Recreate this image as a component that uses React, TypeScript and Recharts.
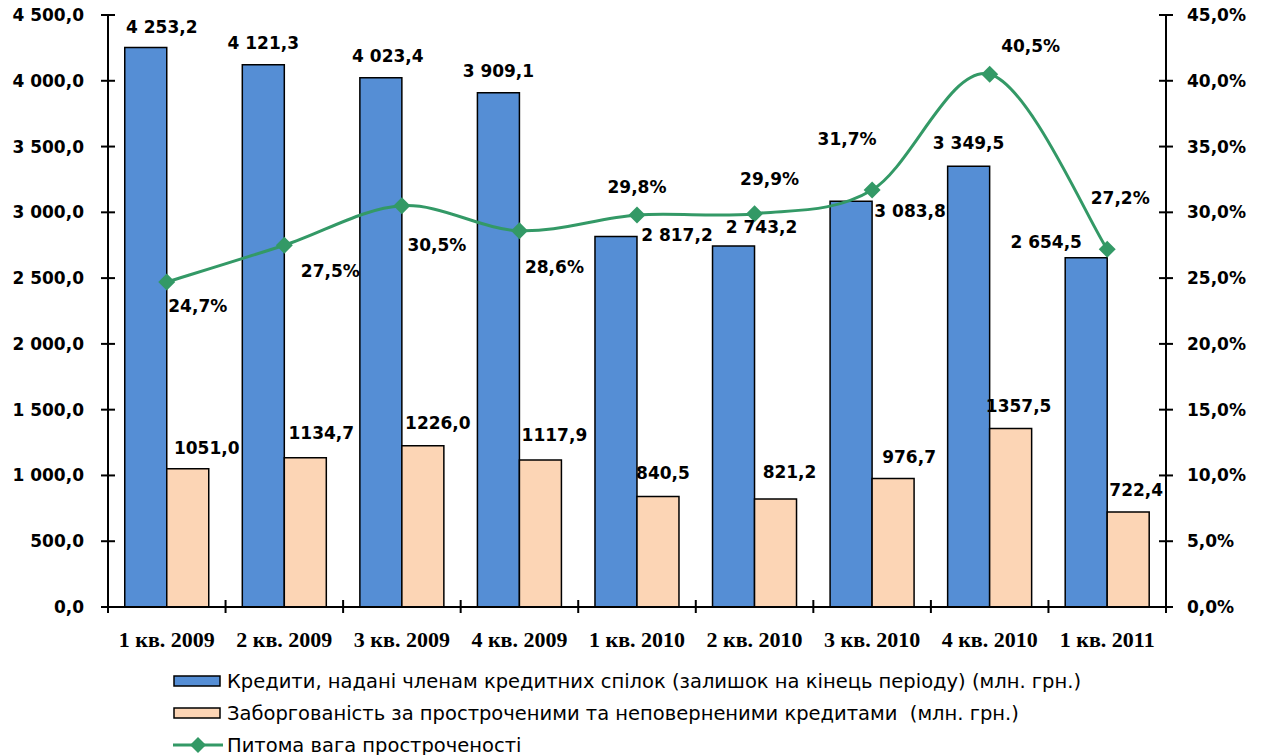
import React from 'react';
import { ComposedChart, Bar, Line, XAxis, YAxis, Legend, LabelList } from 'recharts';

const categories = ['1 кв. 2009', '2 кв. 2009', '3 кв. 2009', '4 кв. 2009', '1 кв. 2010', '2 кв. 2010', '3 кв. 2010', '4 кв. 2010', '1 кв. 2011'];
const loans = [4253.2, 4121.3, 4023.4, 3909.1, 2817.2, 2743.2, 3083.8, 3349.5, 2654.5];
const overdue = [1051.0, 1134.7, 1226.0, 1117.9, 840.5, 821.2, 976.7, 1357.5, 722.4];
const share = [24.7, 27.5, 30.5, 28.6, 29.8, 29.9, 31.7, 40.5, 27.2];
const leftTicks = [0, 500, 1000, 1500, 2000, 2500, 3000, 3500, 4000, 4500];
const rightTicks = [0, 5, 10, 15, 20, 25, 30, 35, 40, 45];

const seriesNames = [
  'Кредити, надані членам кредитних спілок (залишок на кінець періоду) (млн. грн.)',
  'Заборгованість за простроченими та неповерненими кредитами  (млн. грн.)',
  'Питома вага простроченості',
];

// label placement offsets (style), relative to bar top center / point
const loanLabelOffset = [[16, -20], [0, -22], [7, -22], [0, -22], [61, -1], [28, -19], [59, 10], [0, -23], [-40, -16]];
const overdueLabelOffset = [[19, -21], [16, -25], [15, -23], [14, -25], [5, -23], [14, -27], [16, -22], [8, -22], [8, -22]];
const shareLabelOffset = [[31, 24], [46, 26], [35, 39], [35, 36], [0, -28], [15, -35], [-25, -51], [41, -28], [13, -51]];

const BLUE = '#558ED5';
const PEACH = '#FCD5B5';
const GREEN = '#339966';
const FONT = 'DejaVu Sans';

const data = categories.map((c, i) => ({ cat: c, loans: loans[i], overdue: overdue[i], share: share[i] }));

const fmtSpaced = (v: number) => {
  const s = v.toFixed(1);
  const [int, dec] = s.split('.');
  const intS = int.replace(/\B(?=(\d{3})+(?!\d))/g, ' ');
  return `${intS},${dec}`;
};
const fmtPlain = (v: number) => v.toFixed(1).replace('.', ',');
const fmtPct = (v: number) => `${v.toFixed(1).replace('.', ',')}%`;

// Excel-like smoothed curve (Catmull-Rom through points)
const excelCurve: any = (context: any) => {
  let pts: number[][] = [];
  return {
    areaStart() {},
    areaEnd() {},
    lineStart() { pts = []; },
    point(x: number, y: number) { pts.push([+x, +y]); },
    lineEnd() {
      if (!pts.length) return;
      context.moveTo(pts[0][0], pts[0][1]);
      for (let i = 0; i < pts.length - 1; i++) {
        const p0 = pts[i - 1] || pts[i];
        const p1 = pts[i];
        const p2 = pts[i + 1];
        const p3 = pts[i + 2] || p2;
        context.bezierCurveTo(
          p1[0] + (p2[0] - p0[0]) / 6, p1[1] + (p2[1] - p0[1]) / 6,
          p2[0] - (p3[0] - p1[0]) / 6, p2[1] - (p3[1] - p1[1]) / 6,
          p2[0], p2[1]
        );
      }
    },
  };
};

const textStyle = { fontFamily: FONT, fontWeight: 700, fontSize: 17, fill: '#000' } as const;

const makeBarLabel = (offsets: number[][], fmt: (v: number) => string) => (props: any) => {
  const vb = props.viewBox || props;
  const x = Number(vb.x), y = Number(vb.y), w = Number(vb.width) || 0, h = Number(vb.height) || 0;
  const top = Math.min(y, y + h);
  const i = props.index ?? 0;
  const [dx, dy] = offsets[i] || [0, -20];
  return (
    <text x={x + w / 2 + dx} y={top + dy} textAnchor="middle" dominantBaseline="central" {...textStyle}>
      {fmt(Number(props.value))}
    </text>
  );
};

const shareLabel = (props: any) => {
  const vb = props.viewBox || props;
  const x = Number(props.x ?? vb.x), y = Number(props.y ?? vb.y);
  const i = props.index ?? 0;
  const [dx, dy] = shareLabelOffset[i] || [0, -20];
  return (
    <text x={x + dx} y={y + dy} textAnchor="middle" dominantBaseline="central" {...textStyle}>
      {fmtPct(Number(props.value))}
    </text>
  );
};

const Diamond = (props: any) => {
  const { cx, cy, index } = props;
  if (cx == null || cy == null) return <g key={`d${index}`} />;
  const r = 8.5;
  return <path key={`d${index}`} d={`M${cx},${cy - r}L${cx + r},${cy}L${cx},${cy + r}L${cx - r},${cy}Z`} fill={GREEN} />;
};

const LeftTick = (props: any) => {
  const { x, y, payload } = props;
  return (
    <g>
      <line x1={x - 7} x2={x + 7} y1={y} y2={y} stroke="#000" strokeWidth={2} />
      <text x={x - 24} y={y} textAnchor="end" dominantBaseline="central" {...textStyle}>{fmtSpaced(payload.value)}</text>
    </g>
  );
};

const RightTick = (props: any) => {
  const { x, y, payload } = props;
  return (
    <g>
      <line x1={x - 7} x2={x + 7} y1={y} y2={y} stroke="#000" strokeWidth={2} />
      <text x={x + 21} y={y} textAnchor="start" dominantBaseline="central" {...textStyle}>{fmtPct(payload.value)}</text>
    </g>
  );
};

const XTick = (props: any) => {
  const { x, y, payload, index, visibleTicksCount } = props;
  const off = payload && payload.offset ? payload.offset : 58.8;
  const last = index === (visibleTicksCount ?? categories.length) - 1;
  return (
    <g>
      <line x1={x - off} x2={x - off} y1={y - 7} y2={y + 6} stroke="#000" strokeWidth={2} />
      {last && <line x1={x + off} x2={x + off} y1={y - 7} y2={y + 6} stroke="#000" strokeWidth={2} />}
      <text x={x} y={y + 32} textAnchor="middle" dominantBaseline="central"
        style={{ fontFamily: 'Liberation Serif', fontWeight: 700, fontSize: 22 }} fill="#000">
        {payload.value}
      </text>
    </g>
  );
};

const LegendContent = () => {
  const rowStyle = (top: number): React.CSSProperties => ({
    position: 'absolute', left: 165, top: top - 16, height: 32, display: 'flex', alignItems: 'center',
    fontFamily: FONT, fontSize: 19.5, color: '#000', whiteSpace: 'pre',
  });
  return (
    <div style={{ position: 'relative', height: 96, width: 1247 }}>
      <div style={rowStyle(22)}>
        <svg width={54} height={14}>
          <rect x={1} y={2} width={46} height={10} fill={BLUE} stroke="#000" strokeWidth={1.5} />
        </svg>
        <span>{seriesNames[0]}</span>
      </div>
      <div style={rowStyle(54)}>
        <svg width={54} height={14}>
          <rect x={1} y={2} width={46} height={10} fill={PEACH} stroke="#000" strokeWidth={1.5} />
        </svg>
        <span>{seriesNames[1]}</span>
      </div>
      <div style={rowStyle(86)}>
        <svg width={54} height={20}>
          <line x1={0} x2={50} y1={10} y2={10} stroke={GREEN} strokeWidth={3} />
          <path d="M25,2L33,10L25,18L17,10Z" fill={GREEN} />
        </svg>
        <span>{seriesNames[2]}</span>
      </div>
    </div>
  );
};

export default function App() {
  return (
    <div style={{ marginTop: -8, width: 1247, height: 755 }}>
      <ComposedChart width={1247} height={755} data={data} margin={{ top: 15, right: 0, bottom: 0, left: 0 }}
        barCategoryGap="14.25%" barGap={0}>
        <XAxis dataKey="cat" xAxisId={0} height={52} tickLine={false} tickSize={0} tickMargin={0}
          axisLine={{ stroke: '#000', strokeWidth: 2 }} tick={<XTick />} interval={0} />
        <YAxis yAxisId="left" orientation="left" width={100} domain={[0, 4500]} ticks={leftTicks}
          tickLine={false} tickSize={0} tickMargin={0} axisLine={{ stroke: '#000', strokeWidth: 2 }}
          tick={<LeftTick />} interval={0} />
        <YAxis yAxisId="right" orientation="right" width={89} domain={[0, 45]} ticks={rightTicks}
          tickLine={false} tickSize={0} tickMargin={0} axisLine={{ stroke: '#000', strokeWidth: 2 }}
          tick={<RightTick />} interval={0} />
        <Legend verticalAlign="bottom" align="left" content={<LegendContent />}
          wrapperStyle={{ left: 0, width: 1247, height: 96 }} />
        <Bar yAxisId="left" dataKey="loans" name={seriesNames[0]} fill={BLUE} stroke="#000" strokeWidth={1.5}
          isAnimationActive={false}>
          <LabelList dataKey="loans" content={makeBarLabel(loanLabelOffset, fmtSpaced)} />
        </Bar>
        <Bar yAxisId="left" dataKey="overdue" name={seriesNames[1]} fill={PEACH} stroke="#000" strokeWidth={1.5}
          isAnimationActive={false}>
          <LabelList dataKey="overdue" content={makeBarLabel(overdueLabelOffset, fmtPlain)} />
        </Bar>
        <Line yAxisId="right" dataKey="share" name={seriesNames[2]} type={excelCurve} stroke={GREEN} strokeWidth={3}
          dot={<Diamond />} activeDot={false} isAnimationActive={false}>
          <LabelList dataKey="share" content={shareLabel} />
        </Line>
      </ComposedChart>
    </div>
  );
}
